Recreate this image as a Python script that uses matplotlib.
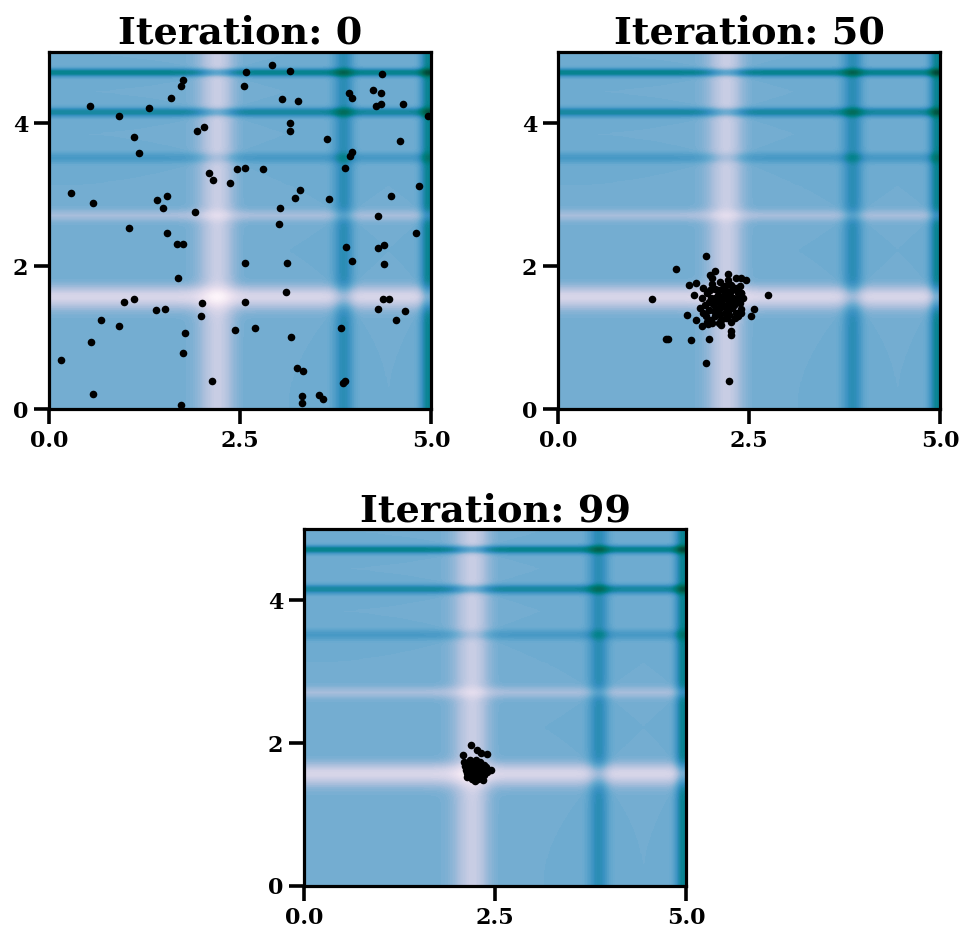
import numpy as np
import matplotlib
matplotlib.use("Agg")
import matplotlib.pyplot as plt

# ---------------- data ----------------
titles = ["Iteration: 0", "Iteration: 50", "Iteration: 99"]
x_ticks = [0.0, 2.5, 5.0]
y_ticks = [0, 2, 4]
x_tick_labels = ["0.0", "2.5", "5.0"]
y_tick_labels = ["0", "2", "4"]

iter0_x = [1.75, 1.73, 0.54, 0.91, 1.31, 1.60, 1.94, 2.03, 1.11, 1.18, 2.10, 2.15, 2.37, 2.46,
           0.29, 0.57, 1.42, 1.55, 1.49, 1.91, 1.05, 1.54,
           1.67, 1.76, 1.69, 0.98, 1.11, 1.40, 1.52, 2.00, 1.99, 0.68, 0.91, 1.78, 2.44, 0.55,
           0.16, 1.75, 2.13, 0.58, 1.73,
           2.92, 2.58, 3.15, 4.36, 2.55, 3.05, 3.26, 3.93, 3.96, 4.24, 4.35, 4.28, 4.34, 4.63,
           4.96, 3.15, 3.16, 3.64, 4.59, 3.96, 3.94, 2.56, 2.80, 3.88, 3.29, 3.22, 3.67, 4.84,
           4.48, 3.02, 3.01, 4.30,
           4.80, 3.89, 4.30, 4.38, 2.56, 3.12, 3.97, 4.39, 3.10, 2.56, 4.37, 4.45, 4.30, 4.66,
           4.54, 2.70, 3.17, 3.82, 3.24, 3.33, 3.85, 3.88, 3.31, 3.31, 3.54, 3.59]
iter0_y = [4.61, 4.52, 4.24, 4.11, 4.22, 4.35, 3.90, 3.95, 3.81, 3.58, 3.31, 3.21, 3.16, 3.36,
           3.03, 2.88, 2.93, 2.98, 2.82, 2.76, 2.54, 2.47,
           2.31, 2.31, 1.84, 1.50, 1.54, 1.38, 1.40, 1.48, 1.30, 1.24, 1.16, 1.06, 1.11, 0.94,
           0.69, 0.79, 0.39, 0.21, 0.05,
           4.82, 4.72, 4.74, 4.69, 4.52, 4.34, 4.32, 4.42, 4.35, 4.47, 4.42, 4.25, 4.27, 4.27,
           4.11, 4.00, 3.89, 3.78, 3.76, 3.60, 3.55, 3.38, 3.36, 3.38, 3.07, 2.96, 2.94, 3.12,
           2.99, 2.81, 2.59, 2.70,
           2.46, 2.27, 2.25, 2.30, 2.05, 2.05, 2.07, 2.03, 1.64, 1.50, 1.54, 1.54, 1.40, 1.37,
           1.24, 1.14, 1.01, 1.13, 0.58, 0.53, 0.37, 0.39, 0.18, 0.08, 0.20, 0.14]

iter50_x = [1.94, 1.55, 1.23, 2.75, 2.05, 2.02, 1.72, 1.81, 2.33, 2.39, 2.46, 2.23, 2.56, 2.53,
            1.69, 1.81, 1.41, 1.44, 1.74, 1.98, 2.26, 2.26, 1.94, 2.24, 1.78, 2.39, 2.39, 1.89,
            1.96, 2.02, 2.13, 1.99,
            1.90, 1.95, 2.00, 2.05, 2.10, 2.15, 2.20, 2.25, 2.30, 2.35, 1.92, 1.98, 2.03, 2.08,
            2.12, 2.18, 2.22, 2.28, 2.33, 2.38, 1.88, 1.94, 2.00, 2.06, 2.14, 2.20, 2.26, 2.32,
            2.40, 2.42, 2.02, 2.12, 2.18, 2.26, 2.32, 2.38, 1.86, 1.90, 2.24, 2.16, 2.10, 2.06,
            2.29, 2.21, 2.13, 2.36, 1.97, 2.09, 2.27, 2.04, 2.19, 2.31, 2.15, 1.99, 2.23, 2.11,
            2.35, 1.95, 2.24, 2.40]
iter50_y = [2.14, 1.96, 1.54, 1.59, 1.93, 1.84, 1.73, 1.77, 1.83, 1.83, 1.81, 1.89, 1.40, 1.30,
            1.32, 1.25, 0.98, 0.98, 0.96, 0.98, 1.09, 1.04, 0.64, 0.39, 1.60, 1.62, 1.34, 1.16,
            1.19, 1.21, 1.18, 1.87,
            1.70, 1.62, 1.55, 1.68, 1.60, 1.52, 1.65, 1.58, 1.50, 1.62, 1.45, 1.38, 1.47, 1.40,
            1.33, 1.44, 1.37, 1.42, 1.35, 1.48, 1.55, 1.30, 1.25, 1.30, 1.24, 1.28, 1.22, 1.27,
            1.40, 1.55, 1.75, 1.78, 1.72, 1.74, 1.70, 1.72, 1.42, 1.35, 1.48, 1.58, 1.50, 1.56,
            1.56, 1.54, 1.43, 1.56, 1.50, 1.66, 1.65, 1.37, 1.35, 1.45, 1.68, 1.66, 1.80, 1.20,
            1.30, 1.22, 1.31, 1.63]

iter99_x = [2.19, 2.26, 2.32, 2.39, 2.08, 2.45, 2.34, 2.24, 2.15,
            2.12, 2.16, 2.20, 2.24, 2.28, 2.32, 2.36, 2.14, 2.18, 2.22, 2.26, 2.30, 2.34, 2.38,
            2.11, 2.19, 2.27, 2.23, 2.29, 2.17, 2.25, 2.33, 2.13, 2.21, 2.35, 2.09, 2.40, 2.31,
            2.20, 2.28]
iter99_y = [1.97, 1.91, 1.86, 1.85, 1.84, 1.63, 1.49, 1.47, 1.54,
            1.62, 1.70, 1.58, 1.66, 1.60, 1.68, 1.56, 1.52, 1.64, 1.72, 1.54, 1.74, 1.62, 1.66,
            1.68, 1.52, 1.69, 1.60, 1.56, 1.76, 1.76, 1.55, 1.58, 1.66, 1.70, 1.74, 1.60, 1.64,
            1.50, 1.50]

# Michalewicz objective (background)
m_steep = 10
domain = (0.0, 5.0)


def objective(x, y):
    return -(np.sin(x) * np.sin(1 * x ** 2 / np.pi) ** (2 * m_steep)
             + np.sin(y) * np.sin(2 * y ** 2 / np.pi) ** (2 * m_steep))


# ---------------- plot ----------------
W, H = 968, 936
fig = plt.figure(figsize=(W / 100, H / 100), dpi=100)

panel_px = [(49, 52, 382, 357), (558, 52, 382, 357), (304, 529, 382, 357)]
series = [(iter0_x, iter0_y), (iter50_x, iter50_y), (iter99_x, iter99_y)]

g = np.linspace(domain[0], domain[1], 300)
GX, GY = np.meshgrid(g, g)
GZ = objective(GX, GY)

for (l, t, w, h), title, (sx, sy) in zip(panel_px, titles, series):
    ax = fig.add_axes([l / W, 1 - (t + h) / H, w / W, h / H])
    ax.contourf(GX, GY, GZ, levels=100, cmap="PuBuGn")
    ax.scatter(sx, sy, s=30, color="black", zorder=3, linewidths=0)
    ax.set_xlim(*domain)
    ax.set_ylim(*domain)
    ax.set_xticks(x_ticks)
    ax.set_xticklabels(x_tick_labels)
    ax.set_yticks(y_ticks)
    ax.set_yticklabels(y_tick_labels)
    for lab in ax.get_xticklabels() + ax.get_yticklabels():
        lab.set_fontfamily("DejaVu Serif")
        lab.set_fontweight("bold")
        lab.set_fontsize(16)
    ax.tick_params(length=11, width=2.6, color="black", pad=4)
    for sp in ax.spines.values():
        sp.set_linewidth(2.3)
        sp.set_color("black")
    ax.set_title(title, fontfamily="DejaVu Serif", fontweight="bold", fontsize=27.5, pad=5)

fig.savefig("out.png", dpi=100)
